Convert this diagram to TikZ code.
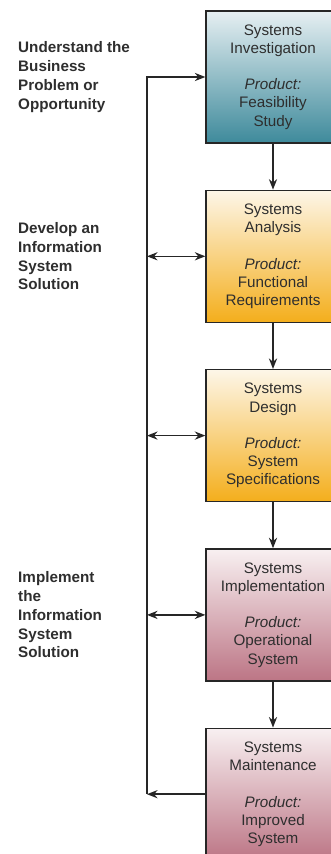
\documentclass[tikz,border=0pt]{standalone}
\usepackage{fontspec}
\setmainfont{Liberation Sans}
\usetikzlibrary{positioning,arrows.meta}

\definecolor{tealtop}{HTML}{E6EFF2}
\definecolor{tealmid}{HTML}{9EC4CD}
\definecolor{tealbot}{HTML}{3E8A9B}
\definecolor{ambertop}{HTML}{FDF6E8}
\definecolor{ambermid}{HTML}{FBDDA2}
\definecolor{amberbot}{HTML}{F4AE1C}
\definecolor{rosetop}{HTML}{F8F0F1}
\definecolor{rosemid}{HTML}{E2C0C7}
\definecolor{rosebot}{HTML}{BC7585}
\definecolor{inkgray}{HTML}{2E2E2E}

\begin{document}
\begin{tikzpicture}[x=0.03cm, y=0.03cm, node distance=1.38cm, every node/.style={font=\fontsize{13}{15.5}\selectfont, text=inkgray}, stage/.style={draw=black!85, line width=1.1pt, rectangle, minimum width=4.02cm, minimum height=3.96cm, align=center, inner sep=0pt}, phase/.style={font=\bfseries\fontsize{13}{16}\selectfont, align=left, anchor=west, inner sep=0pt}, flow/.style={draw=black!85, line width=1.3pt, -{Stealth[length=9pt,width=7pt]}}, both/.style={flow, {Stealth[length=9pt,width=7pt]}-{Stealth[length=9pt,width=7pt]}}]

\useasboundingbox (0,0) rectangle (331,-854);
\clip (0,0) rectangle (331,-854);

% Nodes
\node[stage, top color=tealtop, middle color=tealmid, bottom color=tealbot] (invest) at (273,-77) {Systems\\Investigation\\[15.5pt]\textit{Product:}\\Feasibility\\Study};
\node[stage, top color=ambertop, middle color=ambermid, bottom color=amberbot] (analysis) [below=of invest] {Systems\\Analysis\\[15.5pt]\textit{Product:}\\Functional\\Requirements};
\node[stage, top color=ambertop, middle color=ambermid, bottom color=amberbot] (design) [below=of analysis] {Systems\\Design\\[15.5pt]\textit{Product:}\\System\\Specifications};
\node[stage, top color=rosetop, middle color=rosemid, bottom color=rosebot] (implement) [below=of design] {Systems\\Implementation\\[15.5pt]\textit{Product:}\\Operational\\System};
\node[stage, top color=rosetop, middle color=rosemid, bottom color=rosebot] (maintain) [below=of implement] {Systems\\Maintenance\\[15.5pt]\textit{Product:}\\Improved\\System};

% Phase labels
\coordinate (margin) at (18,0);
\coordinate (bus) at (147,0);
\node[phase] (understand) at (margin |- invest.west) {Understand the\\Business\\Problem or\\Opportunity};
\node[phase] (develop) at (margin |- analysis.west) {Develop an\\Information\\System\\Solution};
\node[phase] (deploy) at (margin |- implement.west) {Implement\\the\\Information\\System\\Solution};

% Arrows
\draw[flow] (invest) -- (analysis);
\draw[flow] (analysis) -- (design);
\draw[flow] (design) -- (implement);
\draw[flow] (implement) -- (maintain);
\draw[flow] (maintain.west) -- (bus |- maintain.west);
\draw[flow] (bus |- maintain.west) |- (invest.west);
\draw[both] (bus |- analysis.west) -- (analysis.west);
\draw[both] (bus |- design.west) -- (design.west);
\draw[both] (bus |- implement.west) -- (implement.west);

\end{tikzpicture}
\end{document}
